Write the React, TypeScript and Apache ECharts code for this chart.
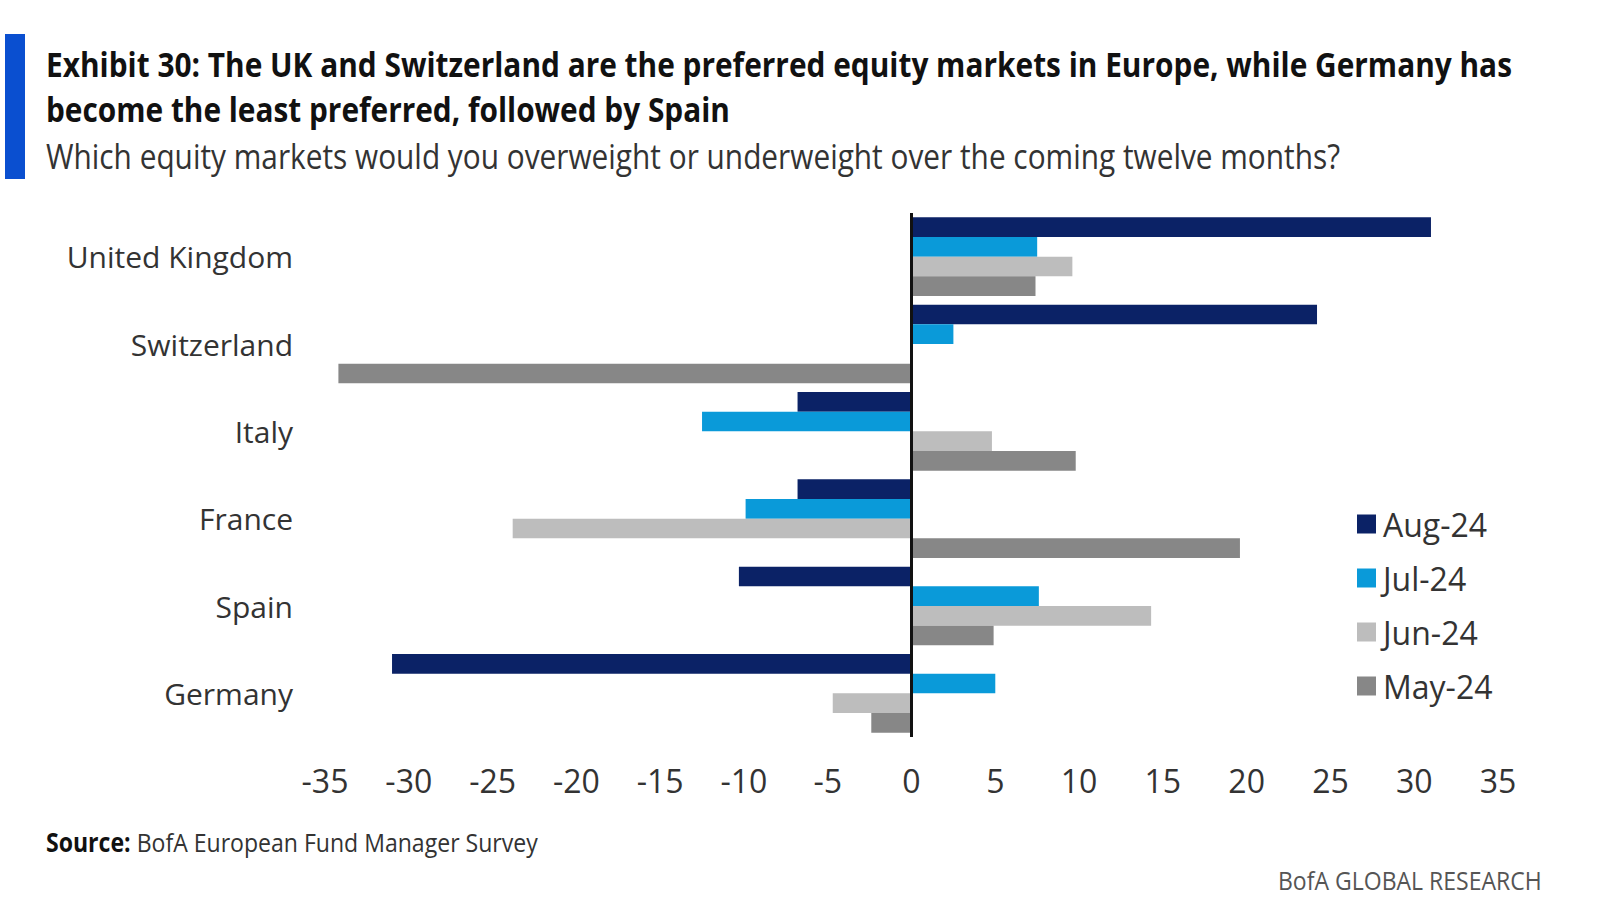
import { useEffect, useRef } from 'react'
import * as echarts from 'echarts'

// data
const markets = ['United Kingdom', 'Switzerland', 'Italy', 'France', 'Spain', 'Germany']
const seriesNames = ['Aug-24', 'Jul-24', 'Jun-24', 'May-24']
const aug24 = [31, 24.2, -6.8, -6.8, -10.3, -31]
const jul24 = [7.5, 2.5, -12.5, -9.9, 7.6, 5]
const jun24 = [9.6, 0, 4.8, -23.8, 14.3, -4.7]
const may24 = [7.4, -34.2, 9.8, 19.6, 4.9, -2.4]
const colors = ['#0b2266', '#0a9ad9', '#bdbdbd', '#878787']

const FONT = '"Open Sans", "DejaVu Sans", sans-serif'

// width of a text in px, used to squeeze the headline texts like the condensed original
const measure = (text: string, size: number, weight = 'normal') => {
  const ctx = document.createElement('canvas').getContext('2d')
  if (!ctx) return text.length * size * 0.5
  ctx.font = `${weight} ${size}px ${FONT}`
  return ctx.measureText(text).width
}

const squeezed = (text: string, x: number, y: number, size: number, width: number, fill: string, weight = 'normal') => ({
  type: 'text',
  x,
  y,
  scaleX: width / measure(text, size, weight),
  style: { text, fontFamily: FONT, fontWeight: weight, fontSize: size, fill, verticalAlign: 'middle' }
})

const App = () => {
  const chartRef = useRef<HTMLDivElement>(null)

  useEffect(() => {
    if (!chartRef.current) return
    document.body.style.margin = '0'

    const chart = echarts.init(chartRef.current, null, { renderer: 'svg' })
    const values = [aug24, jul24, jun24, may24]

    const line1 = 'Exhibit 30: The UK and Switzerland are the preferred equity markets in Europe, while Germany has'
    const line2 = 'become the least preferred, followed by Spain'
    const sub = 'Which equity markets would you overweight or underweight over the coming twelve months?'
    const srcB = 'Source:'
    const srcN = ' BofA European Fund Manager Survey'
    const srcScale = 492 / (measure(srcB, 26, 'bold') + measure(srcN, 26))
    const brand = 'BofA GLOBAL RESEARCH'
    const brandScale = 264 / measure(brand, 26)

    chart.setOption({
      animation: false,
      backgroundColor: '#fff',
      color: colors,
      grid: { left: 325, right: 102, top: 213, bottom: 162 },
      legend: {
        orient: 'vertical',
        left: 1352,
        top: 501,
        itemWidth: 19,
        itemHeight: 19,
        itemGap: 18,
        icon: 'rect',
        data: seriesNames,
        textStyle: { fontFamily: FONT, fontSize: 32, color: '#333', padding: [0, 0, 0, 2], lineHeight: 36 }
      },
      xAxis: {
        type: 'value',
        min: -35,
        max: 35,
        interval: 5,
        axisLine: { show: false },
        axisTick: { show: false },
        splitLine: { show: false },
        axisLabel: { fontFamily: FONT, fontSize: 32, color: '#333', margin: 27 }
      },
      yAxis: {
        type: 'category',
        inverse: true,
        data: markets,
        axisLine: { show: false },
        axisTick: { show: false },
        axisLabel: { fontFamily: FONT, fontSize: 30, color: '#333', margin: 32, padding: [0, 0, 8, 0] }
      },
      series: seriesNames.map((name, i) => ({
        name,
        type: 'bar',
        data: values[i],
        barGap: '0%',
        barCategoryGap: '10%',
        ...(i === 0
          ? {
              markLine: {
                silent: true,
                symbol: 'none',
                label: { show: false },
                lineStyle: { color: '#111', width: 3, type: 'solid' },
                data: [{ xAxis: 0 }]
              }
            }
          : {})
      })),
      graphic: [
        { type: 'rect', shape: { x: 5, y: 34, width: 20, height: 145 }, style: { fill: '#0a4fd0' } },
        squeezed(line1, 46, 64, 34, 1466, '#111', 'bold'),
        squeezed(line2, 46, 109, 34, 684, '#111', 'bold'),
        squeezed(sub, 46, 156, 34, 1295, '#333'),
        {
          type: 'text',
          x: 46,
          y: 842,
          scaleX: srcScale,
          style: {
            rich: {
              b: { fontFamily: FONT, fontWeight: 'bold', fontSize: 26, fill: '#111' },
              n: { fontFamily: FONT, fontSize: 26, fill: '#333' }
            },
            text: `{b|${srcB}}{n|${srcN}}`,
            verticalAlign: 'middle'
          }
        },
        {
          type: 'text',
          x: 1542 - 264,
          y: 880,
          scaleX: brandScale,
          style: { text: brand, fontFamily: FONT, fontSize: 26, fill: '#555', verticalAlign: 'middle' }
        }
      ]
    })

    return () => {
      chart.dispose()
    }
  }, [])

  return <div ref={chartRef} style={{ width: 1600, height: 899, background: '#fff' }} />
}

export default App
